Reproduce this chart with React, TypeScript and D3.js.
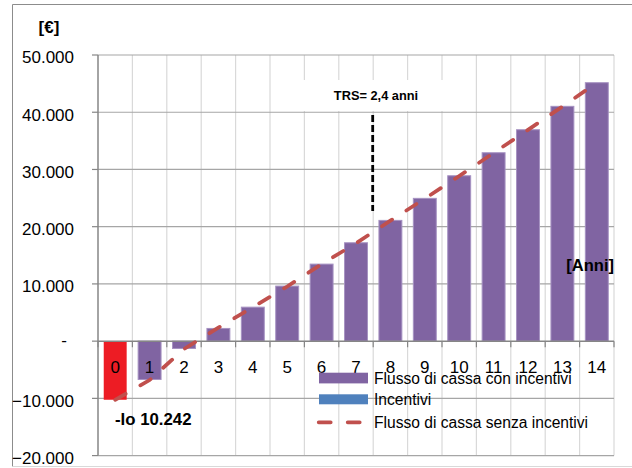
import React from 'react';
import * as d3 from 'd3';

const years = ['0','1','2','3','4','5','6','7','8','9','10','11','12','13','14'];
const cashWithIncentives = [-10242, -6700, -1280, 2220, 5940, 9620, 13460, 17190, 21100, 24950, 28900, 32920, 36940, 41030, 45160];
const incentives = [0,0,0,0,0,0,0,0,0,0,0,0,0,0,0];
const cashWithoutIncentives = [-10242, -6800, -1380, 2350, 5940, 9550, 13460, 17100, 21050, 24900, 28850, 32880, 36920, 41000, 45150];
const yTicks = [-20000, -10000, 0, 10000, 20000, 30000, 40000, 50000];
const legendLabels = ['Flusso di cassa con incentivi', 'Incentivi', 'Flusso di cassa senza incentivi'];
const yUnit = '[€]';
const xUnit = '[Anni]';
const trsLabel = 'TRS= 2,4 anni';
const ioLabel = '-Io 10.242';

const W = 632, H = 468;
const X0 = 98, X1 = 614;
const FONT = '"Liberation Sans", Arial, sans-serif';

const locale = d3.formatLocale({ decimal: ',', thousands: '.', grouping: [3], currency: ['', ''] });
const fmt = locale.format(',.0f');

export default function App() {
  const y = d3.scaleLinear().domain([-20000, 50000]).range([455.6, 55]);
  const x = d3.scaleBand<string>().domain(years).range([X0, X1]).paddingInner(1 / 3).paddingOuter(1 / 6);
  const xb = d3.scaleLinear().domain([0, years.length]).range([X0, X1]);
  const cx = (d: string) => (x(d) as number) + x.bandwidth() / 2;
  const line = d3.line<number>().x((_, i) => cx(years[i])).y(v => y(v));
  const y0 = y(0);

  return (
    <svg width={W} height={H} style={{ position: 'absolute', left: 0, top: 0, background: '#fff' }} fontFamily={FONT}>
      <rect x={0} y={0} width={W} height={H} fill="#fff" />
      {/* outer frame */}
      <line x1={12.5} y1={4.5} x2={W} y2={4.5} stroke="#8c8c8c" />
      <line x1={12.5} y1={4.5} x2={12.5} y2={466.5} stroke="#8c8c8c" />
      <line x1={12.5} y1={466.5} x2={W} y2={466.5} stroke="#d9d9d9" />

      {/* vertical gridlines */}
      {d3.range(1, years.length + 1).map(i => (
        <line key={'vg' + i} x1={xb(i)} x2={xb(i)} y1={y(50000)} y2={y(-20000)} stroke="#d9d9d9" strokeWidth={1.2} />
      ))}
      {/* horizontal gridlines */}
      {yTicks.filter(t => t !== 0).map(t => (
        <line key={'hg' + t} x1={X0} x2={X1} y1={y(t)} y2={y(t)} stroke="#a6a6a6" strokeWidth={1.2} />
      ))}

      {/* white box behind TRS label */}
      <rect x={290} y={80} width={170} height={31} fill="#fff" />
      <text x={376} y={99.5} textAnchor="middle" fontWeight="bold" fontSize={12.8} fill="#000">{trsLabel}</text>
      <line x1={372.7} x2={372.7} y1={115} y2={211} stroke="#000" strokeWidth={2.8} strokeDasharray="7 3" />

      {/* bars */}
      {cashWithIncentives.map((v, i) => (
        <rect key={'b' + i} x={x(years[i])} width={x.bandwidth()}
          y={Math.min(y(v), y0)} height={Math.abs(y(v) - y0)}
          fill={i === 0 ? '#ed1c24' : '#8064a2'} stroke={i === 0 ? 'none' : '#a692c2'} strokeWidth={1} />
      ))}
      {incentives.map((v, i) => v !== 0 ? (
        <rect key={'inc' + i} x={x(years[i])} width={x.bandwidth()}
          y={Math.min(y(v), y0)} height={Math.abs(y(v) - y0)} fill="#4f81bd" />
      ) : null)}

      {/* axes */}
      <line x1={X0} x2={X1} y1={y0} y2={y0} stroke="#868686" strokeWidth={1.5} />
      {d3.range(0, years.length + 1).map(i => (
        <line key={'xt' + i} x1={xb(i)} x2={xb(i)} y1={y0} y2={y0 + 6} stroke="#868686" strokeWidth={1.2} />
      ))}
      <line x1={X0} x2={X0} y1={y(50000)} y2={y(-20000)} stroke="#868686" strokeWidth={1.5} />
      {yTicks.map(t => (
        <line key={'yt' + t} x1={X0 - 6} x2={X0} y1={y(t)} y2={y(t)} stroke="#868686" strokeWidth={1.2} />
      ))}

      {/* dashed line */}
      <path d={line(cashWithoutIncentives) || ''} fill="none" stroke="#c0504d" strokeWidth={3.75}
        strokeDasharray="12 17" strokeLinecap="round" />

      {/* y tick labels */}
      {yTicks.map(t => (
        t === 0
          ? <text key={'yl' + t} x={64} y={y(t) + 5} textAnchor="middle" fontSize={17} fill="#000">-</text>
          : <text key={'yl' + t} x={74} y={y(t) + 8.3} textAnchor="end" fontSize={17} fill="#000">{fmt(t)}</text>
      ))}
      {/* x labels */}
      {years.map(d => (
        <text key={'xl' + d} x={cx(d)} y={372.8} textAnchor="middle" fontSize={17} fill="#000">{d}</text>
      ))}

      {/* unit labels */}
      <text x={49} y={32.5} textAnchor="middle" fontWeight="bold" fontSize={17} fill="#000">{yUnit}</text>
      <text x={614} y={271} textAnchor="end" fontWeight="bold" fontSize={16.5} fill="#000">{xUnit}</text>
      <text x={115} y={425} fontWeight="bold" fontSize={16.8} fill="#000">{ioLabel}</text>

      {/* legend */}
      <rect x={319} y={372.7} width={49} height={10.7} fill="#8064a2" />
      <text x={374} y={383.5} fontSize={15.6} fill="#000">{legendLabels[0]}</text>
      <rect x={319} y={394.3} width={49} height={10} fill="#4f81bd" />
      <text x={374} y={405} fontSize={15.6} fill="#000">{legendLabels[1]}</text>
      <line x1={318.7} x2={362} y1={422.3} y2={422.3} stroke="#c0504d" strokeWidth={3.75} strokeDasharray="12 17" strokeLinecap="round" />
      <text x={374} y={427.5} fontSize={15.6} fill="#000">{legendLabels[2]}</text>
    </svg>
  );
}
